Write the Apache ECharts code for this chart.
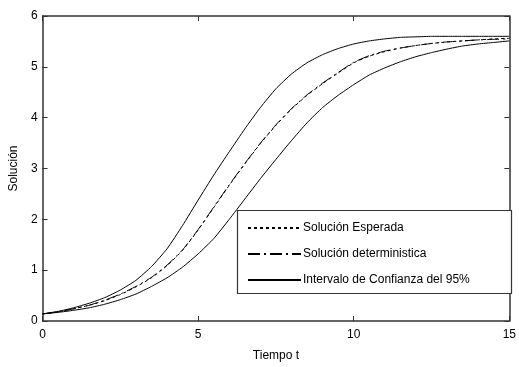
<!DOCTYPE html>
<html>
<head>
<meta charset="utf-8">
<script src="https://cdn.jsdelivr.net/npm/echarts@6/dist/echarts.min.js"></script>
<style>
  html, body { margin: 0; padding: 0; background: #fff; }
  #chart { width: 519px; height: 367px; }
</style>
</head>
<body>
<div id="chart"></div>
<script>
// time grid (t = 0 .. 15 step 0.5)
const tiempo = [0, 0.5, 1, 1.5, 2, 2.5, 3, 3.5, 4, 4.5, 5, 5.5, 6, 6.5, 7, 7.5,
  8, 8.5, 9, 9.5, 10, 10.5, 11, 11.5, 12, 12.5, 13, 13.5, 14, 14.5, 15];

const esperada = [0.14, 0.18, 0.24, 0.31, 0.40, 0.52, 0.67, 0.85, 1.09, 1.39, 1.79, 2.23, 2.67, 3.09, 3.49, 3.85,
  4.17, 4.44, 4.67, 4.88, 5.08, 5.21, 5.30, 5.37, 5.42, 5.46, 5.49, 5.51, 5.53, 5.55, 5.56];
const deterministica = [0.14, 0.18, 0.24, 0.31, 0.41, 0.53, 0.68, 0.86, 1.10, 1.40, 1.80, 2.24, 2.68, 3.10, 3.50, 3.86,
  4.18, 4.45, 4.68, 4.89, 5.09, 5.22, 5.31, 5.37, 5.42, 5.46, 5.49, 5.51, 5.53, 5.54, 5.55];
const icSuperior = [0.14, 0.19, 0.26, 0.35, 0.46, 0.61, 0.80, 1.07, 1.42, 1.88, 2.38, 2.87, 3.33, 3.78, 4.20, 4.57,
  4.86, 5.08, 5.24, 5.36, 5.45, 5.51, 5.55, 5.58, 5.59, 5.60, 5.60, 5.60, 5.60, 5.60, 5.60];
const icInferior = [0.14, 0.17, 0.21, 0.26, 0.33, 0.42, 0.53, 0.68, 0.85, 1.06, 1.32, 1.62, 2.00, 2.40, 2.80, 3.18,
  3.55, 3.90, 4.20, 4.44, 4.65, 4.84, 4.98, 5.10, 5.20, 5.28, 5.35, 5.41, 5.45, 5.48, 5.51];

const xTicks = [0, 5, 10, 15];
const yTicks = [0, 1, 2, 3, 4, 5, 6];

const nombres = ['Solución Esperada', 'Solución deterministica', 'Intervalo de Confianza del 95%'];

const font = 'Liberation Sans, Arial, sans-serif';
const pair = arr => tiempo.map((t, i) => [t, arr[i]]);

function lineSeries(name, data, type) {
  return {
    name: name,
    type: 'line',
    data: pair(data),
    symbol: 'none',
    smooth: 0.15,
    lineStyle: { color: '#000', width: 1, type: type },
    itemStyle: { color: '#000' },
    animation: false,
    z: 2
  };
}

const axisBase = {
  type: 'value',
  axisLine: { show: true, onZero: false, lineStyle: { color: '#333', width: 1.5 } },
  axisTick: { show: true, inside: true, length: 5, lineStyle: { color: '#333' } },
  splitLine: { show: false },
  axisLabel: { color: '#000', fontFamily: font, fontSize: 12 }
};

const chart = echarts.init(document.getElementById('chart'));
chart.setOption({
  backgroundColor: '#fff',
  animation: false,
  grid: { left: 40, right: 7, top: 16, bottom: 45 },
  xAxis: [
    Object.assign({}, axisBase, {
      min: xTicks[0], max: xTicks[xTicks.length - 1], interval: 5, position: 'bottom',
      name: 'Tiempo t', nameLocation: 'middle', nameGap: 29,
      nameTextStyle: { color: '#000', fontFamily: font, fontSize: 12 },
      axisLabel: Object.assign({}, axisBase.axisLabel, { margin: 8 })
    }),
    Object.assign({}, axisBase, {
      min: xTicks[0], max: xTicks[xTicks.length - 1], interval: 5, position: 'top',
      axisLabel: { show: false }
    })
  ],
  yAxis: [
    Object.assign({}, axisBase, {
      min: yTicks[0], max: yTicks[yTicks.length - 1], interval: 1, position: 'left',
      name: 'Solución', nameLocation: 'middle', nameGap: 22,
      nameTextStyle: { color: '#000', fontFamily: font, fontSize: 12 },
      axisLabel: Object.assign({}, axisBase.axisLabel, { margin: 5 })
    }),
    Object.assign({}, axisBase, {
      min: yTicks[0], max: yTicks[yTicks.length - 1], interval: 1, position: 'right',
      axisLabel: { show: false }
    })
  ],
  legend: {
    orient: 'vertical',
    left: 242,
    top: 217,
    itemWidth: 53,
    itemHeight: 10,
    itemGap: 14,
    data: nombres,
    selectedMode: false,
    z: 20,
    itemStyle: { opacity: 0 },
    textStyle: { color: '#000', fontFamily: font, fontSize: 12, padding: [0, 0, 0, -3] }
  },
  graphic: [{
    type: 'rect',
    shape: { x: 237.5, y: 210.5, width: 274, height: 83 },
    style: { fill: '#fff', stroke: '#333', lineWidth: 1.2 },
    z: 5
  }],
  series: [
    lineSeries(nombres[0], esperada, [3, 3]),
    lineSeries(nombres[1], deterministica, [12, 4, 2, 4]),
    lineSeries(nombres[2], icSuperior, 'solid'),
    lineSeries(nombres[2], icInferior, 'solid')
  ]
});
</script>
</body>
</html>
